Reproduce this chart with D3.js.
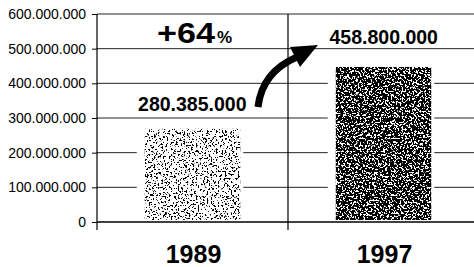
<!DOCTYPE html>
<html>
<head>
<style>
  body { margin: 0; background: #fff; }
  text { font-family: Arial, "Liberation Sans", sans-serif; fill: #000; }
</style>
</head>
<body>
<svg id="chart" width="474" height="267"></svg>
<script src="https://cdn.jsdelivr.net/npm/d3@7"></script>
<script>
// data
const years = ["1989", "1997"]
const visitors = [280385000, 458800000]
const yTicks = [0, 100000000, 200000000, 300000000, 400000000, 500000000, 600000000]
const growthLabel = "+64"

let svg = d3.select("#chart")

// dots as thousand separator, like the original
let fmt = d3.formatLocale({decimal: ",", thousands: ".", grouping: [3], currency: ["", ""]}).format(",")

let y = d3.scaleLinear().domain([0, 600000000]).range([222, 14])
let x = d3.scaleBand().domain(years).range([97, 479]).paddingInner(0).paddingOuter(0)
let barW = x.bandwidth() * 0.5

// grainy fill filters (light for 1989, dense for 1997)
let defs = svg.append("defs")
function grain(id, thr, seed) {
    let f = defs.append("filter").attr("id", id).attr("x", "-5%").attr("y", "-5%").attr("width", "110%").attr("height", "110%")
    f.append("feTurbulence").attr("type", "fractalNoise").attr("baseFrequency", 0.55)
        .attr("numOctaves", 3).attr("seed", seed).attr("result", "n")
    f.append("feColorMatrix").attr("in", "n").attr("type", "matrix")
        .attr("values", "0 0 0 0 0  0 0 0 0 0  0 0 0 0 0  25 0 0 0 " + (-25 * thr)).attr("result", "a")
    f.append("feComposite").attr("in", "SourceGraphic").attr("in2", "a").attr("operator", "in")
}
grain("g0", 0.58, 4)
grain("g1", 0.42, 7)

// horizontal gridlines
svg.append("g").selectAll("line")
    .data(yTicks.slice(1))
    .join("line")
    .attr("x1", 97).attr("x2", 479)
    .attr("y1", d => y(d)).attr("y2", d => y(d))
    .attr("stroke", "#222").attr("stroke-width", 1)

// vertical category dividers
svg.append("g").selectAll("line")
    .data(years.slice(1))
    .join("line")
    .attr("x1", d => x(d)).attr("x2", d => x(d))
    .attr("y1", y(600000000)).attr("y2", y(0) + 8)
    .attr("stroke", "#000").attr("stroke-width", 1.2)

// white halo under bars so gridlines are cut
svg.append("g").selectAll("rect")
    .data(years)
    .join("rect")
    .attr("x", d => x(d) + x.bandwidth() / 2 - barW / 2 - 8)
    .attr("width", barW + 11)
    .attr("y", (d, i) => y(visitors[i]) - 3)
    .attr("height", (d, i) => y(0) - y(visitors[i]) + 2)
    .attr("fill", "#fff")

// bars
svg.append("g").selectAll("rect")
    .data(years)
    .join("rect")
    .attr("x", d => x(d) + x.bandwidth() / 2 - barW / 2)
    .attr("width", barW)
    .attr("y", (d, i) => y(visitors[i]) + 4)
    .attr("height", (d, i) => y(0) - y(visitors[i]) - 6)
    .attr("fill", "#000")
    .attr("filter", (d, i) => "url(#g" + i + ")")

// x axis line
svg.append("line")
    .attr("x1", 97).attr("x2", 479).attr("y1", y(0)).attr("y2", y(0))
    .attr("stroke", "#000").attr("stroke-width", 1.5)

// y axis
let yAxis = d3.axisLeft(y).tickValues(yTicks).tickSize(5).tickPadding(6).tickFormat(d => fmt(d))
let ya = svg.append("g").attr("transform", "translate(97,0)").call(yAxis)
ya.select(".domain").remove()
ya.selectAll("line").attr("stroke", "#000")
ya.selectAll("text").style("font-size", "14px").attr("fill", "#000")
svg.append("line")
    .attr("x1", 97).attr("x2", 97).attr("y1", y(600000000)).attr("y2", y(0) + 8)
    .attr("stroke", "#000").attr("stroke-width", 1.2)

// category labels
svg.append("g").selectAll("text")
    .data(years)
    .join("text")
    .attr("x", d => x(d) + x.bandwidth() / 2 + 1)
    .attr("y", 263)
    .attr("text-anchor", "middle")
    .style("font-size", "25px").style("font-weight", "bold")
    .text(d => d)

// value labels
svg.append("text")
    .attr("x", x("1989") + x.bandwidth() / 2 + 54).attr("y", y(visitors[0]) - 14)
    .attr("text-anchor", "end")
    .style("font-size", "19.5px").style("font-weight", "bold")
    .text(fmt(visitors[0]))
svg.append("text")
    .attr("x", x("1997") + x.bandwidth() / 2 - 54).attr("y", y(visitors[1]) - 19)
    .attr("text-anchor", "start")
    .style("font-size", "19.5px").style("font-weight", "bold")
    .text(fmt(visitors[1]))

// growth label
svg.append("text")
    .attr("x", 157).attr("y", 43)
    .attr("textLength", 58).attr("lengthAdjust", "spacingAndGlyphs")
    .style("font-size", "29px").style("font-weight", "bold")
    .text(growthLabel)
svg.append("text")
    .attr("x", 217).attr("y", 43)
    .style("font-size", "17px").style("font-weight", "bold")
    .text("%")

// curved arrow
svg.append("path")
    .attr("d", "M258,107 Q262,72 297,57")
    .attr("fill", "none").attr("stroke", "#000").attr("stroke-width", 7)
svg.append("path")
    .attr("d", "M290,47 L318,45 L300,67 Z")
    .attr("fill", "#000")
</script>
</body>
</html>
